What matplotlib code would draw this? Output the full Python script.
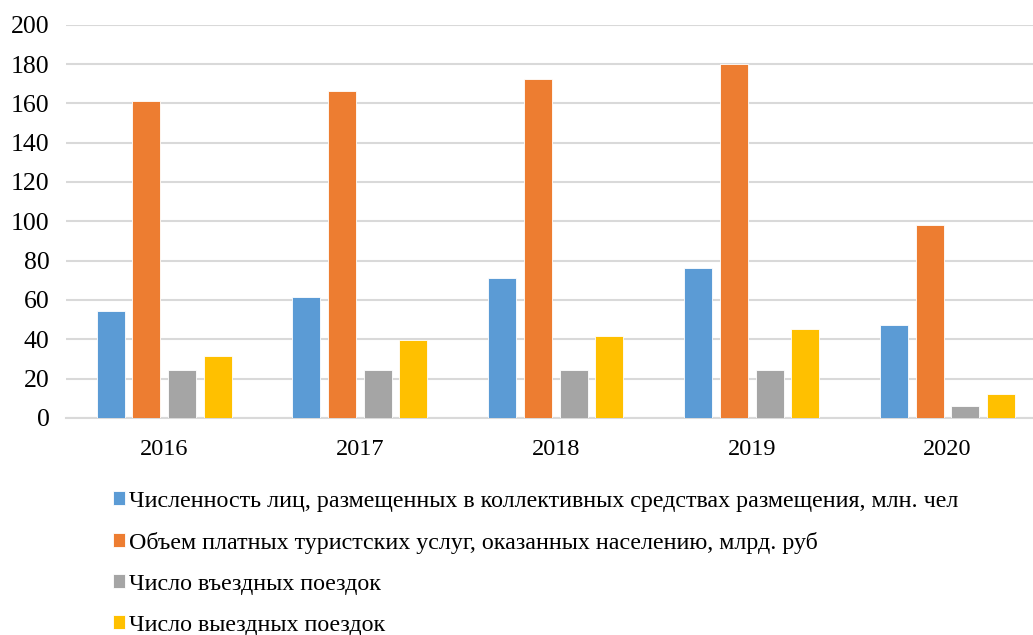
import matplotlib.pyplot as plt
import numpy as np

years = ['2016', '2017', '2018', '2019', '2020']
persons = [54.3, 61.6, 71.3, 76.3, 47.2]
services = [161.2, 166.4, 172.4, 180.1, 98.1]
inbound = [24.3, 24.3, 24.4, 24.3, 5.9]
outbound = [31.4, 39.6, 41.7, 45.3, 12.0]

labels = [
    'Численность лиц, размещенных в коллективных средствах размещения, млн. чел',
    'Объем платных туристских услуг, оказанных населению, млрд. руб',
    'Число въездных поездок',
    'Число выездных поездок',
]
colors = ['#5b9bd5', '#ed7d31', '#a5a5a5', '#ffc000']

plt.rcParams['font.family'] = ['Liberation Serif', 'DejaVu Serif']

fig = plt.figure(figsize=(10.33, 6.35), dpi=100)
# plot area runs off the right edge of the picture
ax = fig.add_axes([0.064, 0.342, 0.936, 0.619])

x = np.arange(len(years))
w = 0.143
step = 0.182
series = [persons, services, inbound, outbound]
for i, (vals, c, lab) in enumerate(zip(series, colors, labels)):
    ax.bar(x + (i - 1.5) * step, vals, width=w, color=c, label=lab,
           edgecolor='white', linewidth=0.6, zorder=3)

ax.set_xlim(-0.5, 4.436)
ax.set_ylim(0, 200)
ax.set_yticks(range(0, 201, 20))
ax.set_xticks(x)
ax.set_xticklabels(years)
ax.yaxis.grid(True, color='#d9d9d9', linewidth=1.5, zorder=0)
for s in ['top', 'right', 'left']:
    ax.spines[s].set_visible(False)
ax.spines['bottom'].set_color('#d9d9d9')
ax.spines['bottom'].set_linewidth(1.5)
ax.tick_params(axis='both', length=0, labelsize=17.5, colors='black')
ax.tick_params(axis='y', labelsize=18.5, pad=12)
ax.tick_params(axis='x', pad=15)

fig.legend(loc='upper left', bbox_to_anchor=(0.109, 0.227), frameon=False,
           fontsize=17.3, handlelength=0.5, handleheight=0.5,
           handletextpad=0.2, labelspacing=0.83, borderaxespad=0,
           borderpad=0)

plt.savefig('out.png', dpi=100)
